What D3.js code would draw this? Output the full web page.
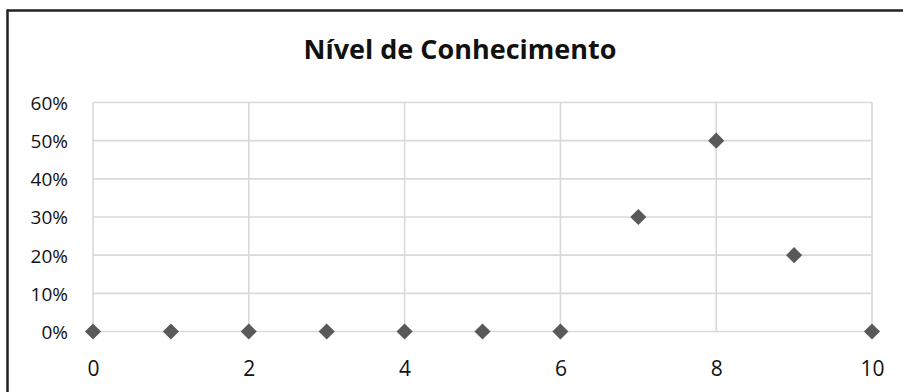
<!DOCTYPE html>
<html>
<head>
<meta charset="utf-8">
<script src="https://cdn.jsdelivr.net/npm/d3@7"></script>
<style>
  html, body { margin: 0; padding: 0; background: #fff; overflow: hidden; }
  svg { display: block; }
</style>
</head>
<body>
<div id="chart"></div>
<script>
// Knowledge level scores (0–10) and the share of respondents at each score
const scores = [0, 1, 2, 3, 4, 5, 6, 7, 8, 9, 10];
const shares = [0, 0, 0, 0, 0, 0, 0, 0.30, 0.50, 0.20, 0];
const xTicks = [0, 2, 4, 6, 8, 10];
const yTicks = [0, 0.1, 0.2, 0.3, 0.4, 0.5, 0.6];
const yTickLabels = ["0%", "10%", "20%", "30%", "40%", "50%", "60%"];
const title = "Nível de Conhecimento";

const W = 903, H = 392;
const svg = d3.select("#chart").append("svg")
  .attr("width", W).attr("height", H);

const font = "'Open Sans', Lato, sans-serif";

// chart frame: top and left edges
svg.append("line")
  .attr("x1", 7).attr("x2", W).attr("y1", 10.5).attr("y2", 10.5)
  .attr("stroke", "#222").attr("stroke-width", 2.5);
svg.append("line")
  .attr("x1", 7.5).attr("x2", 7.5).attr("y1", 9.5).attr("y2", H)
  .attr("stroke", "#222").attr("stroke-width", 2.5);

const x = d3.scaleLinear().domain([0, 10]).range([93, 872]);
const y = d3.scaleLinear().domain([0, 0.6]).range([331.5, 102.5]);

// gridlines
const grid = svg.append("g");
grid.selectAll("line.h").data(yTicks).join("line")
  .attr("class", "h")
  .attr("x1", x(0)).attr("x2", x(10))
  .attr("y1", d => y(d)).attr("y2", d => y(d))
  .attr("stroke", "#d9d9d9").attr("stroke-width", 1.6);
grid.selectAll("line.v").data(xTicks).join("line")
  .attr("class", "v")
  .attr("y1", y(0)).attr("y2", y(0.6))
  .attr("x1", d => x(d)).attr("x2", d => x(d))
  .attr("stroke", "#d9d9d9").attr("stroke-width", 1.6);

// y axis labels
const yAxis = d3.axisLeft(y)
  .tickValues(yTicks)
  .tickFormat((d, i) => yTickLabels[i])
  .tickSize(0).tickPadding(0);
const gy = svg.append("g").attr("transform", "translate(68,0)").call(yAxis);
gy.select(".domain").remove();
gy.selectAll("text")
  .attr("font-family", font).attr("font-size", 19).attr("font-weight", 500)
  .attr("fill", "#111").attr("dy", "0.36em");

// x axis labels
const xAxis = d3.axisBottom(x).tickValues(xTicks).tickSize(0).tickPadding(0);
const gx = svg.append("g").attr("transform", "translate(0,368)").call(xAxis);
gx.select(".domain").remove();
gx.selectAll("text")
  .attr("font-family", font).attr("font-size", 21).attr("font-weight", 500)
  .attr("fill", "#111").attr("dy", "0.36em");

// diamond markers
const diamond = d3.symbol().type(d3.symbolSquare).size(130);
svg.append("g").selectAll("path").data(scores).join("path")
  .attr("d", diamond)
  .attr("transform", (d, i) => `translate(${x(d)},${y(shares[i])}) rotate(45)`)
  .attr("fill", "#595959");

// title
svg.append("text")
  .attr("x", 460).attr("y", 59)
  .attr("text-anchor", "middle")
  .attr("font-family", font).attr("font-weight", "bold")
  .attr("font-size", 27).attr("fill", "#111")
  .text(title);
</script>
</body>
</html>
